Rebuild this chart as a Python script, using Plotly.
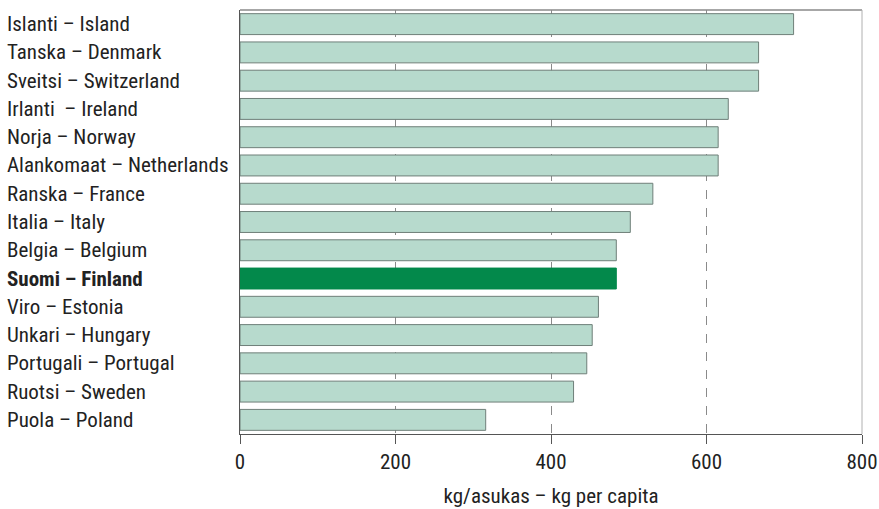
import plotly.graph_objects as go

categories = [
    "Islanti – Island", "Tanska – Denmark", "Sveitsi – Switzerland", "Irlanti  – Ireland",
    "Norja – Norway", "Alankomaat – Netherlands", "Ranska – France", "Italia – Italy",
    "Belgia – Belgium", "Suomi – Finland", "Viro – Estonia", "Unkari – Hungary",
    "Portugali – Portugal", "Ruotsi – Sweden", "Puola – Poland",
]
values = [712, 667, 667, 628, 615, 615, 531, 502, 484, 484, 461, 453, 446, 429, 316]
highlight = "Suomi – Finland"
x_ticks = [0, 200, 400, 600, 800]
x_title = "kg/asukas – kg per capita"

FONT = "Roboto Condensed, Liberation Sans Narrow, sans-serif"
TXT = "#222222"
LIGHT = "#b7dacd"
DARK = "#03894b"

colors = [DARK if c == highlight else LIGHT for c in categories]
line_colors = [DARK if c == highlight else "#6f7f79" for c in categories]

fig = go.Figure()
fig.add_trace(go.Bar(
    x=values, y=categories, orientation="h",
    marker=dict(color=colors, line=dict(color=line_colors, width=1)),
    width=0.74, hoverinfo="skip",
))

annotations = []
for c in categories:
    txt = f"<b>{c}</b>" if c == highlight else c
    annotations.append(dict(
        x=-235 / 622, xref="paper", y=c, yref="y", text=txt, showarrow=False,
        xanchor="left", yanchor="middle", font=dict(family=FONT, size=21, color=TXT),
    ))

fig.update_layout(
    width=879, height=509,
    margin=dict(l=240, r=17, t=10, b=75, autoexpand=False),
    paper_bgcolor="white", plot_bgcolor="white",
    showlegend=False,
    annotations=annotations,
    font=dict(family=FONT, size=21, color=TXT),
)
fig.update_xaxes(
    range=[0, 800], tickvals=x_ticks, ticktext=[str(t) for t in x_ticks],
    showgrid=True, gridcolor="#8a8a8a", griddash="dash", gridwidth=1,
    showline=True, linecolor="#555555", linewidth=1, mirror=False,
    ticks="outside", ticklen=9, tickcolor="#555555",
    tickfont=dict(family=FONT, size=21, color=TXT),
    title=dict(text=x_title, font=dict(family=FONT, size=21, color=TXT), standoff=15),
    zeroline=False, automargin=False,
)
fig.update_yaxes(
    autorange="reversed", showticklabels=False, showgrid=False,
    showline=True, linecolor="#555555", linewidth=1, ticks="", automargin=False,
)
# frame top and right (lighter)
fig.add_shape(type="line", xref="paper", yref="paper", x0=0, x1=1, y0=1, y1=1,
              line=dict(color="#8a8a8a", width=1.5))
fig.add_shape(type="line", xref="paper", yref="paper", x0=1, x1=1, y0=0, y1=1,
              line=dict(color="#b0b0b0", width=1))

fig.write_html("out.html", config={"displayModeBar": False},
               post_script="document.body.style.margin='0';document.body.style.overflow='hidden';")
